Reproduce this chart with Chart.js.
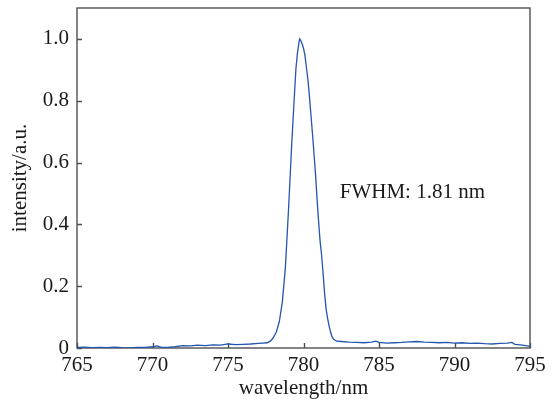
<!DOCTYPE html>
<html>
<head>
<meta charset="utf-8">
<script src="https://cdn.jsdelivr.net/npm/chart.js@4/dist/chart.umd.min.js"></script>
<style>
  html, body { margin: 0; padding: 0; background: #fff; }
  #wrap { width: 555px; height: 403px; }
</style>
</head>
<body>
<div id="wrap"><canvas id="spec" width="555" height="403"></canvas></div>
<script>
// spectrum
const wavelength = [
  765, 765.5, 766, 766.5, 767, 767.5, 768, 768.5, 769, 769.5,
  770, 770.3, 770.6, 771, 771.5, 772, 772.5, 773, 773.5, 774,
  774.5, 775, 775.5, 776, 776.5, 777, 777.3, 777.6, 777.8, 778.0,
  778.2, 778.4, 778.6, 778.8, 779.0, 779.2, 779.4, 779.5, 779.6, 779.7,
  779.75, 779.8, 779.9, 780.0, 780.1, 780.2, 780.3, 780.4, 780.5, 780.6,
  780.7, 780.8, 780.9, 781.0, 781.1, 781.2, 781.3, 781.4, 781.5, 781.6,
  781.7, 781.8, 781.9, 782.0, 782.2, 782.5, 783, 783.5, 784, 784.5,
  784.8, 785, 785.5, 786, 786.5, 787, 787.5, 788, 788.5, 789,
  789.5, 790, 790.5, 791, 791.5, 792, 792.5, 793, 793.5, 793.8,
  794, 794.5, 795
];
const intensity = [
  0.002, 0.003, 0.001, 0.002, 0.001, 0.003, 0.001, 0.000, 0.002, 0.002,
  0.004, 0.007, 0.002, 0.002, 0.004, 0.008, 0.007, 0.009, 0.008, 0.010,
  0.009, 0.013, 0.011, 0.012, 0.013, 0.015, 0.016, 0.017, 0.022, 0.033,
  0.052, 0.085, 0.150, 0.260, 0.440, 0.640, 0.820, 0.905, 0.955, 0.988,
  1.000, 0.997, 0.985, 0.970, 0.945, 0.905, 0.865, 0.810, 0.750, 0.690,
  0.625, 0.560, 0.480, 0.410, 0.345, 0.300, 0.240, 0.175, 0.125, 0.095,
  0.070, 0.050, 0.035, 0.028, 0.022, 0.021, 0.019, 0.018, 0.017, 0.019,
  0.022, 0.018, 0.016, 0.017, 0.018, 0.020, 0.021, 0.019, 0.018, 0.017,
  0.018, 0.016, 0.017, 0.015, 0.016, 0.014, 0.013, 0.015, 0.016, 0.018,
  0.012, 0.009, 0.005
];
const xTicks = [765, 770, 775, 780, 785, 790, 795];
const yTicks = [0, 0.2, 0.4, 0.6, 0.8, 1.0];
const note = { text: "FWHM: 1.81 nm", x: 782.4, y: 0.484 };

const FONT = "'Liberation Serif', 'Times New Roman', serif";
const INK = "#1a1a1a";
const FRAME = "#505050";

// frame on all four sides + inward tick marks
const frameTicks = {
  id: "frameTicks",
  beforeDatasetsDraw(chart) {
    const { ctx, chartArea: a, scales } = chart;
    ctx.save();
    ctx.strokeStyle = FRAME;
    ctx.lineWidth = 1.4;
    ctx.strokeRect(a.left, a.top, a.right - a.left, a.bottom - a.top);
    ctx.beginPath();
    xTicks.forEach(v => {
      const px = Math.round(scales.x.getPixelForValue(v)) + 0.5;
      ctx.moveTo(px, a.bottom);
      ctx.lineTo(px, a.bottom - 5);
    });
    yTicks.forEach(v => {
      const py = Math.round(scales.y.getPixelForValue(v)) + 0.5;
      ctx.moveTo(a.left, py);
      ctx.lineTo(a.left + 5, py);
    });
    ctx.stroke();
    ctx.restore();
  },
  afterDraw(chart) {
    const { ctx, scales } = chart;
    ctx.save();
    ctx.fillStyle = INK;
    ctx.font = "21px " + FONT;
    ctx.textBaseline = "alphabetic";
    ctx.fillText(note.text, scales.x.getPixelForValue(note.x), scales.y.getPixelForValue(note.y));
    ctx.restore();
  }
};

new Chart(document.getElementById("spec"), {
  type: "line",
  data: {
    datasets: [{
      data: wavelength.map((w, i) => ({ x: w, y: intensity[i] })),
      borderColor: "#2356ad",
      borderWidth: 1.3,
      pointRadius: 0,
      tension: 0,
      fill: false
    }]
  },
  options: {
    responsive: false,
    animation: false,
    events: [],
    layout: { padding: { left: 0, right: 25, top: 8, bottom: 0 } },
    plugins: { legend: { display: false }, tooltip: { enabled: false } },
    scales: {
      x: {
        type: "linear",
        min: 765, max: 795,
        afterBuildTicks: s => { s.ticks = xTicks.map(v => ({ value: v })); },
        afterFit: s => { s.height = 55; s.paddingLeft = 0; s.paddingRight = 0; },
        grid: { display: false, drawTicks: false },
        border: { display: false },
        ticks: { color: INK, font: { family: FONT, size: 21 }, padding: 5, maxRotation: 0 },
        title: { display: true, text: "wavelength/nm", color: INK, font: { family: FONT, size: 21 }, padding: { top: 0, bottom: 2 } }
      },
      y: {
        min: 0, max: 1.1,
        afterBuildTicks: s => { s.ticks = yTicks.map(v => ({ value: v })); },
        afterFit: s => { s.width = 77; s.paddingTop = 0; s.paddingBottom = 0; },
        grid: { display: false, drawTicks: false },
        border: { display: false },
        ticks: {
          color: INK, font: { family: FONT, size: 21 }, padding: 8,
          callback: v => v === 0 ? "0" : v.toFixed(1)
        },
        title: { display: true, text: "intensity/a.u.", color: INK, font: { family: FONT, size: 21 }, padding: { top: 8, bottom: 0 } }
      }
    }
  },
  plugins: [frameTicks]
});
</script>
</body>
</html>
